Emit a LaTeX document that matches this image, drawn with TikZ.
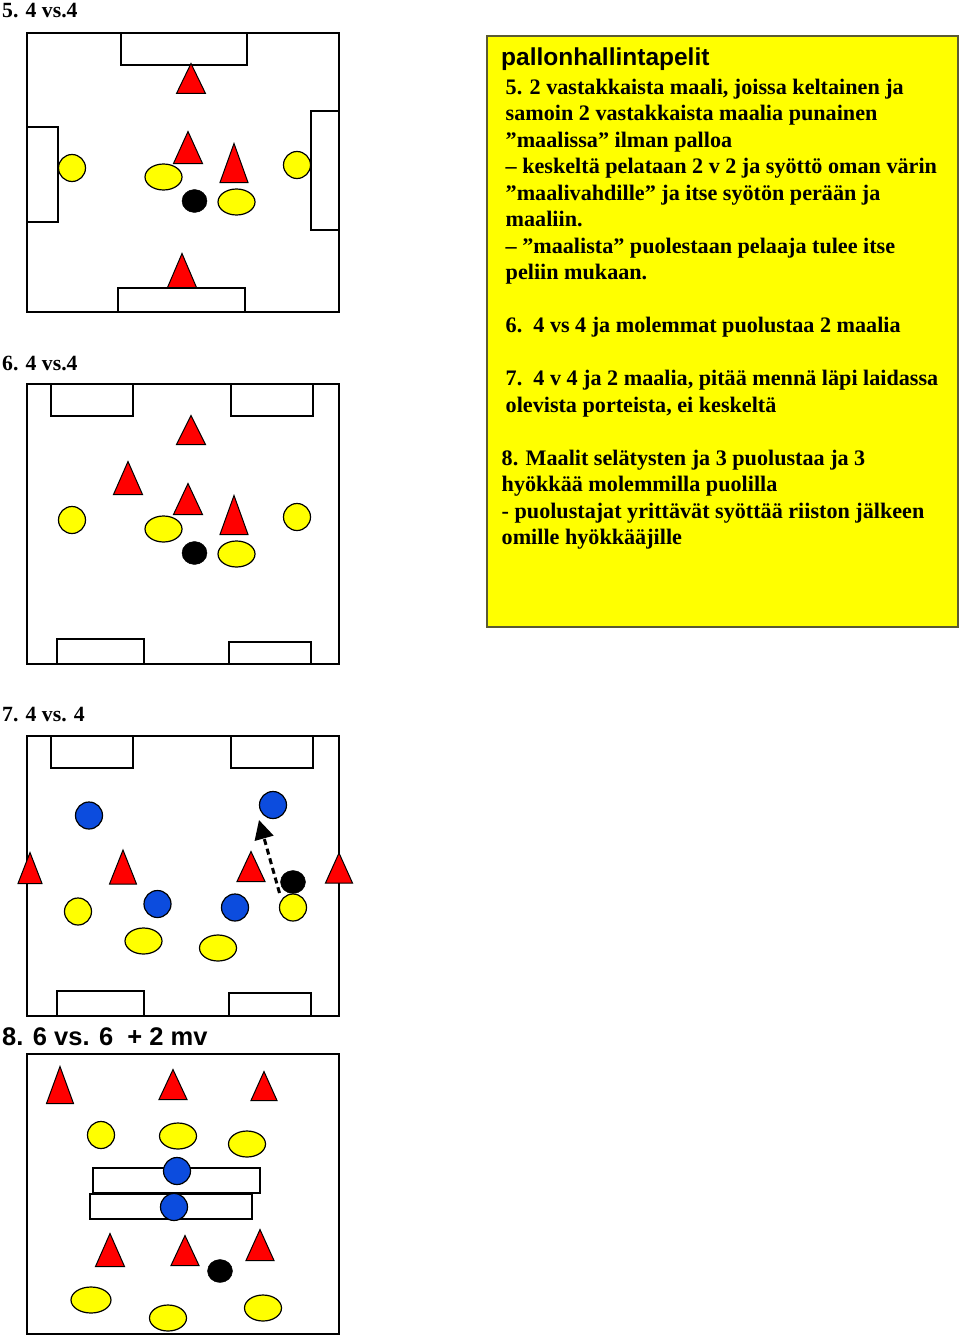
\documentclass[tikz,border=0pt]{standalone}
\usepackage{fontspec}
\setmainfont{Liberation Serif}
\setsansfont{Liberation Sans}
\usetikzlibrary{shapes.geometric}
\usetikzlibrary{arrows.meta}
\definecolor{shirtblue}{RGB}{12,76,222}
\definecolor{shirtyellow}{RGB}{255,255,0}
\definecolor{boxline}{RGB}{90,90,50}
\tikzset{
    field/.style={draw=black,line width=1.4pt},
    goal/.style={draw=black,line width=1.4pt,fill=white},
    cone/.style={isosceles triangle,isosceles triangle stretches,shape border rotate=90,anchor=lower side,draw=black,fill=red,inner sep=0pt,line width=1pt},
    yround/.style={circle,draw=black,fill=shirtyellow,inner sep=0pt,minimum size=27pt,line width=1.2pt},
    yoval/.style={ellipse,draw=black,fill=shirtyellow,inner sep=0pt,minimum width=37pt,minimum height=26pt,line width=1.2pt},
    bround/.style={circle,draw=black,fill=shirtblue,inner sep=0pt,minimum size=27pt,line width=1.2pt},
    ball/.style={ellipse,fill=black,draw=black,inner sep=0pt,minimum width=25pt,minimum height=23pt},
    head/.style={anchor=west,inner sep=0pt,font=\fontsize{21.7}{26}\selectfont\bfseries},
    para/.style={anchor=north west,inner sep=0pt,align=left,font=\fontsize{22.15}{26.53}\selectfont\bfseries},
}
\begin{document}
\begin{tikzpicture}[x=1pt,y=-1pt]
            \useasboundingbox (0,0) rectangle (960,1335);

            % The yellow text box
            \draw[draw=boxline,fill=shirtyellow,line width=1.2pt] (487,36) rectangle (958,627);
            \node[anchor=west,inner sep=0pt,font=\fontsize{24.5}{26}\selectfont\sffamily\bfseries] (title) at (501,59) {pallonhallintapelit};
            \node[para] (t5) at (505.5,78.5) {5. 2 vastakkaista maali, joissa keltainen ja\\
                samoin 2 vastakkaista maalia punainen\\
                ”maalissa” ilman palloa\\
                – keskeltä pelataan 2 v 2 ja syöttö oman värin\\
                ”maalivahdille” ja itse syötön perään ja\\
                maaliin.\\
                – ”maalista” puolestaan pelaaja tulee itse\\
                peliin mukaan.\\[26.53pt]
                6.\ \ 4 vs 4 ja molemmat puolustaa 2 maalia\\[26.53pt]
                7.\ \ 4 v 4 ja 2 maalia, pitää mennä läpi laidassa\\
                olevista porteista, ei keskeltä};
            \node[para] (t8) at (501.5,449.5) {8. Maalit selätysten ja 3 puolustaa ja 3\\
                hyökkää molemmilla puolilla\\
                - puolustajat yrittävät syöttää riiston jälkeen\\
                omille hyökkääjille};

            % Exercise 5
            \node[head] (h5) at (2,11) {5. 4 vs.4};
            \draw[field] (27,33) rectangle (339,312);
            \draw[goal] (121,33) rectangle (247,65);
            \draw[goal] (27,127) rectangle (58,222);
            \draw[goal] (311,111) rectangle (339,230);
            \draw[goal] (118,288) rectangle (245,312);
            \node[cone,minimum width=29pt,minimum height=30pt] (c51) at (191,94) {};
            \node[cone,minimum width=29pt,minimum height=32pt] (c52) at (188,164) {};
            \node[cone,minimum width=28pt,minimum height=39pt] (c53) at (234,183) {};
            \node[cone,minimum width=29pt,minimum height=34pt] (c54) at (182,288) {};
            \node[yround] (y51) at (72,168) {};
            \node[yround] (y52) at (297,165) {};
            \node[yoval] (y53) at (163.5,177) {};
            \node[yoval] (y54) at (236.5,202) {};
            \node[ball] (b5) at (194.5,201) {};

            % Exercise 6
            \node[head] (h6) at (2,363) {6. 4 vs.4};
            \draw[field] (27,384) rectangle (339,664);
            \draw[goal] (51,384) rectangle (133,416);
            \draw[goal] (231,384) rectangle (313,416);
            \draw[goal] (57,639) rectangle (144,664);
            \draw[goal] (229,642) rectangle (311,664);
            \node[cone,minimum width=29pt,minimum height=29pt] (c61) at (191,445) {};
            \node[cone,minimum width=29pt,minimum height=33pt] (c62) at (128,495) {};
            \node[cone,minimum width=29pt,minimum height=31pt] (c63) at (188,515) {};
            \node[cone,minimum width=28pt,minimum height=39pt] (c64) at (234,535) {};
            \node[yround] (y61) at (72,520) {};
            \node[yround] (y62) at (297,517) {};
            \node[yoval] (y63) at (163.5,529) {};
            \node[yoval] (y64) at (236.5,554) {};
            \node[ball] (b6) at (194.5,553) {};

            % Exercise 7
            \node[head] (h7) at (2,715) {7. 4 vs. 4};
            \draw[field] (27,736) rectangle (339,1016);
            \draw[goal] (51,736) rectangle (133,768);
            \draw[goal] (231,736) rectangle (313,768);
            \draw[goal] (57,991) rectangle (144,1016);
            \draw[goal] (229,993) rectangle (311,1016);
            \node[cone,minimum width=24pt,minimum height=31pt] (c71) at (30,884) {};
            \node[cone,minimum width=27pt,minimum height=34pt] (c72) at (123,884.5) {};
            \node[cone,minimum width=28pt,minimum height=30pt] (c73) at (251,882) {};
            \node[cone,minimum width=27pt,minimum height=30pt] (c74) at (339,883.5) {};
            \node[bround] (s71) at (89,815.5) {};
            \node[bround] (s72) at (273,805) {};
            \node[bround] (s73) at (157.5,904) {};
            \node[bround] (s74) at (235,907.5) {};
            \coordinate (a7) at (279.5,893);
            \coordinate (a8) at (259,820);
            \draw[line width=3pt,dash pattern=on 6pt off 4pt,-{Triangle[length=19pt,width=19pt]}] (a7) -- (a8);
            \node[ball] (b7) at (293,882) {};
            \node[yround] (y71) at (78,911.5) {};
            \node[yround] (y72) at (293,907.5) {};
            \node[yoval] (y73) at (143.5,941) {};
            \node[yoval] (y74) at (218,948) {};

            % Exercise 8
            \node[head,font=\fontsize{25.5}{26}\selectfont\sffamily\bfseries] (h8) at (2,1036.5) {8. 6 vs. 6\ \ + 2 mv};
            \draw[field] (27,1054) rectangle (339,1334);
            \draw[goal] (93,1168) rectangle (260,1193);
            \draw[goal] (90,1194) rectangle (252,1219);
            \node[cone,minimum width=27pt,minimum height=37pt] (c81) at (60,1104) {};
            \node[cone,minimum width=28pt,minimum height=30pt] (c82) at (173,1100) {};
            \node[cone,minimum width=26pt,minimum height=29pt] (c83) at (264,1101) {};
            \node[cone,minimum width=29pt,minimum height=33pt] (c84) at (110,1267) {};
            \node[cone,minimum width=28pt,minimum height=30pt] (c85) at (185,1266) {};
            \node[cone,minimum width=28pt,minimum height=31pt] (c86) at (260,1261) {};
            \node[yround] (y81) at (101,1135) {};
            \node[yoval] (y82) at (178,1136) {};
            \node[yoval] (y83) at (247,1144) {};
            \node[bround] (s81) at (177,1171) {};
            \node[bround] (s82) at (174,1207) {};
            \node[ball] (b8) at (220,1271) {};
            \node[yoval,minimum width=40pt] (y84) at (91,1300) {};
            \node[yoval] (y85) at (168,1318) {};
            \node[yoval] (y86) at (263,1308) {};
        \end{tikzpicture}
\end{document}
